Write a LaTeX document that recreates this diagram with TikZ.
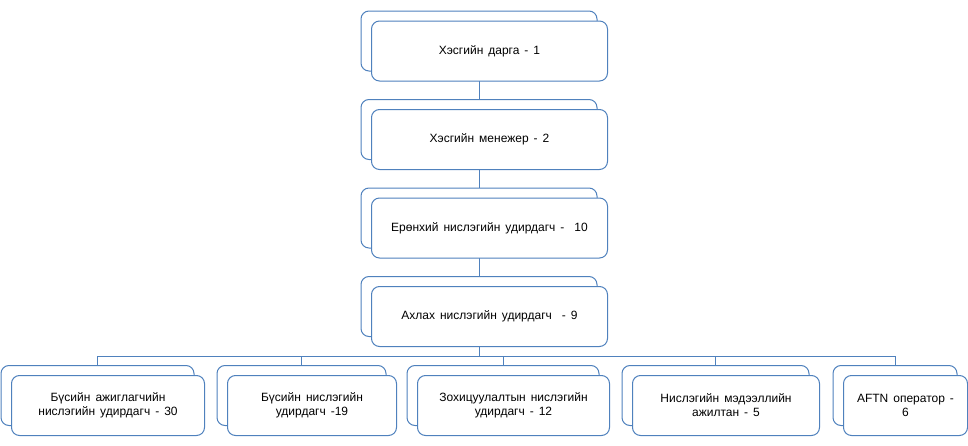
\documentclass[tikz,border=0pt]{standalone}
\usepackage{fontspec}
\setmainfont[WordSpace=1.5]{Liberation Sans}
\usetikzlibrary{backgrounds}
\definecolor{linea}{RGB}{79,129,189}

\begin{document}
\begin{tikzpicture}[x=0.75pt, y=-0.75pt,
		caja/.style = {draw = linea, fill = white, line width = 0.75pt,
		rounded corners = 6pt, minimum height = 45pt,
		inner sep = 0pt, outer sep = 0pt},
		ancho/.style = {minimum width = #1*0.75pt},
		texto/.style = {align = center,
		font = \fontsize{9}{10.5}\selectfont}]
\useasboundingbox (0,0) rectangle (968,446);

% Nodos cadena
\begin{scope}[
		every node/.style = {caja, ancho = 236}]
	\node (A1) at (479,41) {};
	\node[texto] (B1) at (489.5,51) {Хэсгийн дарга - 1};
	\node (A2) at (479,129.5) {};
	\node[texto] (B2) at (489.5,139.5) {Хэсгийн менежер - 2};
	\node (A3) at (479,218) {};
	\node[texto] (B3) at (489.5,228) {Ерөнхий нислэгийн удирдагч - \ 10};
	\node (A4) at (479,306.5) {};
	\node[texto] (B4) at (489.5,316.5) {Ахлах нислэгийн удирдагч \ - 9};
\end{scope}

% Nodos hijos
\begin{scope}[
		every node/.style = {caja}]
	\node[ancho = 193] (C1) at (97.5,395.5) {};
	\node[ancho = 193, texto] (D1) at (108,405.5)
		{Бүсийн ажиглагчийн\\нислэгийн удирдагч - 30};
	\node[ancho = 169] (C2) at (301.5,395.5) {};
	\node[ancho = 169, texto] (D2) at (312,405.5)
		{Бүсийн нислэгийн\\удирдагч -19};
	\node[ancho = 192] (C3) at (503,395.5) {};
	\node[ancho = 192, texto] (D3) at (513.5,405.5)
		{Зохицуулалтын нислэгийн\\удирдагч - 12};
	\node[ancho = 187] (C4) at (715.5,395.5) {};
	\node[ancho = 187, texto] (D4) at (726,405.5)
		{Нислэгийн мэдээллийн\\ажилтан - 5};
	\node[ancho = 124] (C5) at (895,395.5) {};
	\node[ancho = 124, texto] (D5) at (905.5,405.5)
		{AFTN оператор -\\6};
\end{scope}

% Lineas
\begin{scope}[on background layer,
		every edge/.style = {draw = linea, line width = 0.75pt}]
	\coordinate (bus) at (479,356);
	\path (A1) edge (A2);
	\path (A2) edge (A3);
	\path (A3) edge (A4);
	\path (A4) edge (bus);
	\foreach \h in {C1,C2,C3,C4,C5}
		\draw[linea, line width = 0.75pt] (bus) -| (\h);
\end{scope}
\end{tikzpicture}
\end{document}
